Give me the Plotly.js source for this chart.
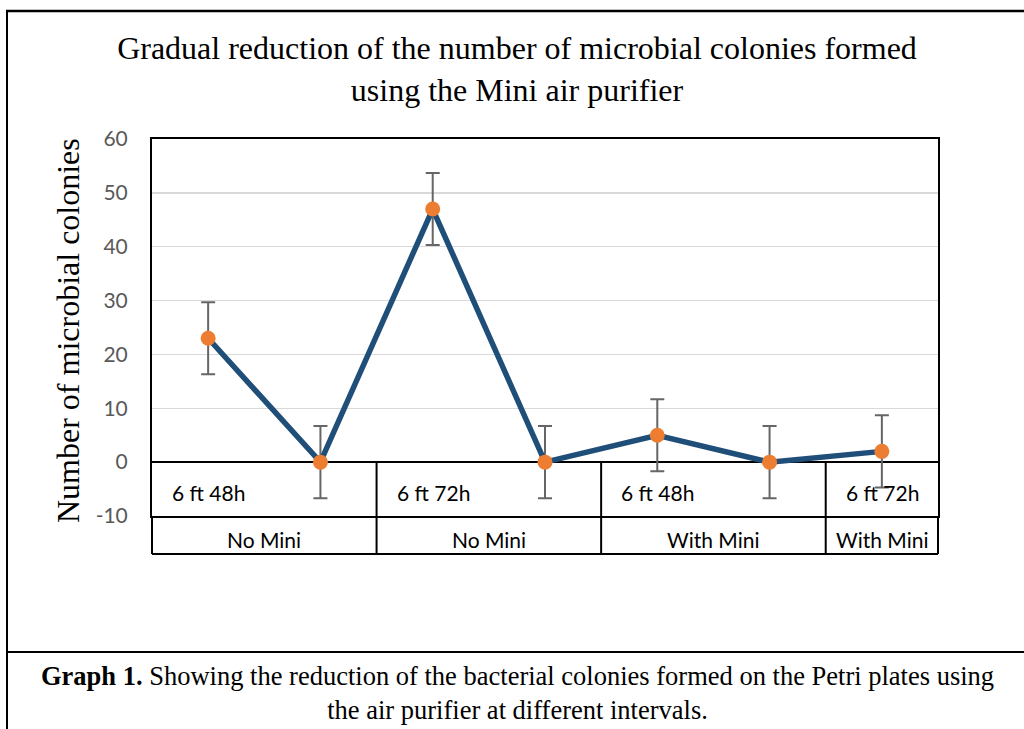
<!DOCTYPE html>
<html>
<head>
<meta charset="utf-8">
<script src="https://cdn.plot.ly/plotly-3.0.1.min.js"></script>
<style>html,body{margin:0;padding:0;background:#fff;}#chart{width:1024px;height:729px;}</style>
</head>
<body>
<div id="chart"></div>
<script>
// ---- data ----
var values = [23, 0, 47, 0, 5, 0, 2];
var errors = [6.7, 6.7, 6.7, 6.7, 6.7, 6.7, 6.7];
var conditions = ["6 ft 48h", "6 ft 72h", "6 ft 48h", "6 ft 72h"];
var groups = ["No Mini", "No Mini", "With Mini", "With Mini"];
var spanCounts = [2, 2, 2, 1];
var yTicks = [-10, 0, 10, 20, 30, 40, 50, 60];
var titleText = "Gradual reduction of the number of microbial colonies formed<br>using the Mini air purifier";
var yTitleText = "Number of microbial colonies";
var captionText = "<b>Graph 1.</b> Showing the reduction of the bacterial colonies formed on the Petri plates using<br>the air purifier at different intervals.";

// ---- geometry ----
var W = 1024, H = 729;
var M = {l: 152, r: 86, t: 139, b: 213};
var plotW = W - M.l - M.r, plotH = H - M.t - M.b;
function px(x) { return (x - M.l) / plotW; }      // pixel -> paper x
function py(y) { return (H - M.b - y) / plotH; }  // pixel -> paper y
var yMin = -10, yMax = 60;
var zeroPaper = (0 - yMin) / (yMax - yMin);
var row2Bottom = py(554);

var xIdx = values.map(function (v, i) { return i; });

var trace = {
  x: xIdx, y: values, type: 'scatter', mode: 'lines+markers',
  line: {color: '#1F4E79', width: 5.5},
  marker: {color: '#ED7D31', size: 15},
  error_y: {type: 'data', array: errors, visible: true, color: '#666666', thickness: 2, width: 7},
  hoverinfo: 'none', showlegend: false
};

var shapes = [];
var annotations = [];
var blk = {color: '#000', width: 2};
var cellFont = {family: 'Lato, Carlito, sans-serif', size: 21, color: '#000'};

// table cells
var start = -0.5;
for (var c = 0; c < spanCounts.length; c++) {
  var end = start + spanCounts[c];
  if (c > 0) {
    shapes.push({type: 'line', xref: 'x', yref: 'paper', x0: start, x1: start, y0: zeroPaper, y1: row2Bottom, line: blk, layer: 'above'});
  }
  annotations.push({xref: 'x', yref: 'y', x: start, y: -5.6, xanchor: 'left', yanchor: 'middle', xshift: 18,
    text: conditions[c], showarrow: false, font: cellFont});
  annotations.push({xref: 'x', yref: 'paper', x: (start + end) / 2, y: py(539), xanchor: 'center', yanchor: 'middle',
    text: groups[c], showarrow: false, font: cellFont});
  start = end;
}
// row 2 borders
shapes.push({type: 'line', xref: 'paper', yref: 'paper', x0: 0, x1: 0, y0: 0, y1: row2Bottom, line: blk});
shapes.push({type: 'line', xref: 'paper', yref: 'paper', x0: 1, x1: 1, y0: 0, y1: row2Bottom, line: blk});
shapes.push({type: 'line', xref: 'paper', yref: 'paper', x0: 0, x1: 1, y0: row2Bottom, y1: row2Bottom, line: blk});

// outer frame
shapes.push({type: 'line', xref: 'paper', yref: 'paper', x0: px(7), x1: px(7), y0: py(H + 2), y1: py(11), line: {color: '#000', width: 2}});
shapes.push({type: 'line', xref: 'paper', yref: 'paper', x0: px(6), x1: px(W + 2), y0: py(11), y1: py(11), line: {color: '#000', width: 2.5}});
shapes.push({type: 'line', xref: 'paper', yref: 'paper', x0: px(6), x1: px(W + 2), y0: py(652), y1: py(652), line: {color: '#000', width: 2}});

var serif = 'Liberation Serif, Times New Roman, serif';
// y title
annotations.push({xref: 'paper', yref: 'paper', x: px(68), y: py(331), xanchor: 'center', yanchor: 'middle',
  textangle: -90, text: yTitleText, showarrow: false,
  font: {family: serif, size: 32, color: '#000'}});
// caption
annotations.push({xref: 'paper', yref: 'paper', x: px(517), y: py(693), xanchor: 'center', yanchor: 'middle',
  text: captionText, showarrow: false,
  font: {family: serif, size: 26.5, color: '#000'}});

var layout = {
  width: W, height: H,
  margin: M,
  paper_bgcolor: '#fff', plot_bgcolor: '#fff',
  title: {text: titleText, x: 517 / W, xanchor: 'center', y: 1 - 59 / H, yanchor: 'middle', yref: 'container',
    font: {family: serif, size: 32, color: '#000'}},
  xaxis: {range: [-0.5, values.length - 0.5], showgrid: false, zeroline: false, showticklabels: false, ticks: '',
    showline: true, linecolor: '#000', linewidth: 2, mirror: true, fixedrange: true},
  yaxis: {range: [yMin, yMax], tickvals: yTicks, ticktext: yTicks.map(String), showgrid: true, gridcolor: '#d9d9d9', gridwidth: 1.5,
    zeroline: true, zerolinecolor: '#000', zerolinewidth: 2,
    showline: true, linecolor: '#000', linewidth: 2, mirror: true, ticks: '', ticklabelstandoff: 18,
    tickfont: {family: 'Lato, Carlito, sans-serif', size: 21, color: '#595959'}, fixedrange: true},
  shapes: shapes,
  annotations: annotations,
  showlegend: false
};

Plotly.newPlot('chart', [trace], layout, {staticPlot: true});
</script>
</body>
</html>
